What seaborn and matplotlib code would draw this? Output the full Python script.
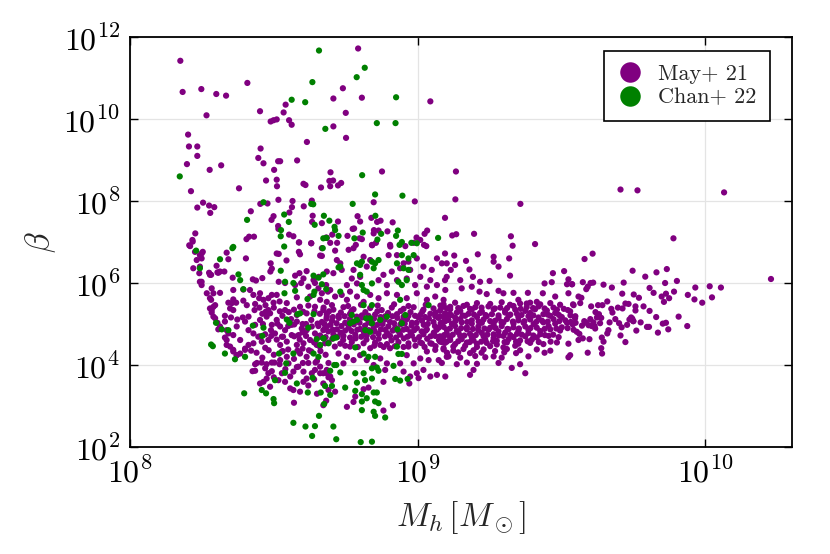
import matplotlib
matplotlib.use("Agg")
import matplotlib.pyplot as plt
from matplotlib.ticker import NullLocator
import seaborn as sns
import pandas as pd
import numpy as np

# values, stored as (log10 M_h, log10 beta)
may21_upper = [
    (8.175, 11.42), (8.793, 11.72), (8.183, 10.66), (8.248, 10.73), (8.300, 10.61), (8.334, 10.57),
    (8.408, 10.88), (8.266, 10.09), (8.452, 10.19), (8.541, 10.35), (8.534, 10.16), (8.489, 9.94),
    (8.499, 9.97), (8.510, 9.99), (8.553, 9.97), (8.562, 9.86), (8.740, 10.75), (8.707, 10.50),
    (8.750, 10.15), (8.707, 9.82), (8.806, 10.52), (8.615, 9.44), (8.751, 9.54), (8.202, 9.62),
    (8.205, 9.33), (8.234, 9.33), (8.234, 9.10), (8.198, 8.90), (8.277, 8.76), (8.317, 8.87),
    (8.454, 9.28), (8.446, 9.05), (8.464, 8.92), (8.515, 8.97), (8.522, 8.97), (8.581, 8.99),
    (8.501, 8.76), (8.473, 8.50), (8.510, 8.52), (8.511, 8.36), (8.697, 8.70), (8.603, 8.42),
    (8.610, 8.39), (8.664, 8.33), (8.693, 8.49), (8.706, 8.50), (8.696, 8.36), (8.723, 8.38),
    (8.734, 8.44), (8.212, 8.24), (8.379, 8.31), (9.044, 10.43), (8.876, 8.72), (9.133, 8.72),
    (8.847, 7.97), (8.990, 7.99), (9.131, 8.04), (9.357, 7.93), (9.705, 8.28), (9.764, 8.26),
    (10.065, 8.21), (9.889, 7.09),
]

may21_mid = [
    (8.254, 7.96), (8.275, 7.89), (8.293, 7.85), (8.234, 7.84), (8.279, 7.71), (8.453, 7.93),
    (8.478, 7.94), (8.516, 8.03), (8.565, 8.00), (8.604, 7.87), (8.632, 8.01), (8.420, 7.75),
    (8.499, 7.63), (8.492, 7.54), (8.563, 7.85), (8.554, 7.72), (8.635, 7.64), (8.633, 7.49),
    (8.667, 7.46), (8.723, 7.50), (8.515, 7.39), (8.516, 7.32), (8.553, 7.18), (8.568, 7.14),
    (8.588, 6.99), (8.227, 7.21), (8.217, 7.05), (8.206, 6.92), (8.405, 7.07), (8.414, 7.13),
    (8.431, 7.13), (8.630, 6.97), (8.684, 7.10), (8.703, 7.18), (8.696, 6.98), (8.720, 6.98),
    (8.756, 7.15), (8.791, 7.63), (8.800, 7.50), (8.774, 7.32), (8.798, 7.09), (8.839, 7.59),
    (8.859, 7.49), (8.871, 7.52), (8.913, 7.48), (9.095, 7.59), (8.779, 7.33), (8.848, 7.29),
    (8.864, 7.28), (8.895, 7.26), (9.024, 7.20), (9.033, 7.28), (8.996, 7.11), (9.120, 7.16),
    (9.134, 7.19), (9.196, 7.20), (9.324, 7.14), (9.330, 6.91), (9.408, 6.95), (8.806, 7.07),
    (8.785, 6.93), (8.842, 6.92), (8.855, 6.98), (8.905, 6.89), (9.022, 6.93), (9.030, 6.90),
]

may21_wall = [
    (8.209, 6.90), (8.218, 7.01), (8.226, 6.76), (8.243, 6.68), (8.232, 6.56), (8.249, 6.72),
    (8.220, 6.36), (8.243, 6.40), (8.241, 6.24), (8.243, 6.03), (8.249, 5.95), (8.278, 6.20),
    (8.304, 6.26), (8.313, 6.28), (8.267, 5.75), (8.284, 5.87), (8.278, 5.63), (8.296, 5.46),
    (8.284, 5.34), (8.290, 5.18), (8.304, 5.03), (8.307, 4.87), (8.330, 5.06), (8.342, 4.77),
    (8.336, 4.61), (8.348, 4.45), (8.359, 4.37), (8.371, 4.24), (8.383, 4.28), (8.400, 4.37),
]

may21_left = [
    (8.253, 6.76), (8.249, 6.60), (8.336, 6.74), (8.342, 6.58), (8.403, 6.60), (8.510, 6.72),
    (8.517, 6.71), (8.544, 6.55), (8.489, 6.48), (8.587, 6.99), (8.587, 6.76), (8.591, 6.70),
    (8.630, 6.97), (8.667, 6.85), (8.661, 6.67), (8.667, 6.66), (8.682, 7.11), (8.301, 6.42),
    (8.328, 6.28), (8.307, 6.25), (8.275, 6.25), (8.282, 6.20), (8.357, 6.13), (8.249, 6.03),
    (8.488, 6.28), (8.493, 6.35), (8.460, 6.12), (8.427, 6.09), (8.438, 6.06), (8.574, 6.18),
    (8.589, 6.24), (8.614, 6.29), (8.603, 6.11), (8.656, 6.15), (8.638, 6.07), (8.517, 6.03),
    (8.539, 6.00), (8.574, 5.95), (8.595, 6.00), (8.620, 5.91), (8.643, 6.00), (8.655, 5.87),
    (8.682, 5.95), (8.688, 5.79), (8.290, 5.75), (8.282, 5.59), (8.313, 5.76), (8.359, 5.83),
    (8.394, 5.84), (8.417, 5.83), (8.429, 5.71), (8.452, 5.75), (8.449, 5.63), (8.464, 5.59),
    (8.481, 5.63), (8.493, 5.71), (8.510, 5.71), (8.359, 5.60), (8.394, 5.57), (8.406, 5.46),
    (8.435, 5.49), (8.433, 5.34), (8.471, 5.46), (8.481, 5.34), (8.499, 5.52), (8.278, 5.38),
    (8.290, 5.42), (8.284, 5.28), (8.296, 5.14), (8.342, 5.52), (8.354, 5.51), (8.369, 5.52),
    (8.348, 5.38), (8.359, 5.34), (8.330, 5.20), (8.351, 5.16), (8.373, 5.11), (8.392, 5.16),
    (8.400, 5.06), (8.313, 4.94), (8.336, 4.85), (8.330, 4.67), (8.359, 4.73), (8.383, 4.61),
    (8.336, 4.49), (8.412, 4.85), (8.429, 4.77), (8.446, 4.69), (8.429, 4.53), (8.412, 4.49),
    (8.475, 5.18), (8.487, 5.26), (8.510, 5.10), (8.493, 4.98), (8.522, 4.94), (8.539, 4.85),
    (8.562, 4.98), (8.580, 5.06), (8.504, 4.77), (8.528, 4.69), (8.545, 4.57), (8.562, 4.73),
    (8.586, 4.73), (8.597, 4.89), (8.614, 4.85), (8.632, 4.94), (8.643, 4.77), (8.626, 4.61),
    (8.661, 4.69), (8.672, 4.85), (8.684, 4.94), (8.678, 4.53), (8.649, 4.49), (8.603, 4.53),
    (8.580, 4.49), (8.522, 4.49), (8.481, 4.61), (8.458, 4.57), (8.626, 5.67), (8.643, 5.42),
    (8.661, 5.59), (8.672, 5.34), (8.684, 5.18), (8.591, 5.42), (8.580, 5.22), (8.614, 5.26),
    (8.545, 5.51), (8.539, 5.34), (8.435, 4.98), (8.452, 5.10), (8.412, 5.18), (8.371, 4.94),
    (8.460, 5.25), (8.500, 5.40), (8.530, 5.20), (8.560, 5.12), (8.600, 5.00), (8.630, 5.10),
    (8.655, 4.95), (8.470, 4.75), (8.510, 4.62), (8.550, 4.95), (8.590, 4.62), (8.640, 4.55),
    (8.570, 5.35), (8.620, 5.45), (8.660, 5.25), (8.520, 5.55), (8.580, 5.65), (8.450, 5.40),
    (8.490, 4.85), (8.600, 4.80),
]

may21_low = [
    (8.359, 4.33), (8.371, 4.24), (8.435, 4.02), (8.458, 4.06), (8.475, 4.02), (8.493, 4.06),
    (8.470, 3.92), (8.481, 3.80), (8.493, 3.85), (8.435, 3.86), (8.426, 3.85), (8.452, 3.55),
    (8.464, 3.59), (8.487, 3.47), (8.475, 3.67), (8.516, 3.63), (8.528, 3.80), (8.539, 3.59),
    (8.557, 3.72), (8.568, 3.84), (8.585, 3.96), (8.603, 3.84), (8.614, 3.67), (8.632, 3.80),
    (8.643, 3.88), (8.661, 3.96), (8.672, 3.80), (8.684, 3.88), (8.672, 3.55), (8.557, 3.43),
    (8.568, 3.39), (8.591, 3.35), (8.603, 3.59), (8.570, 3.08), (8.682, 3.13), (8.672, 3.02),
    (8.522, 4.12), (8.545, 4.20), (8.591, 4.28), (8.614, 4.20), (8.528, 4.33), (8.400, 4.40),
    (8.440, 4.30), (8.470, 4.42), (8.500, 4.25), (8.550, 4.38), (8.570, 4.15), (8.600, 4.40),
    (8.630, 4.33), (8.650, 4.10), (8.680, 4.25), (8.460, 4.18), (8.520, 4.02), (8.580, 3.95),
    (8.620, 4.05), (8.660, 4.45), (8.690, 4.05), (8.500, 3.70), (8.540, 3.90), (8.640, 3.65),
    (8.690, 3.70), (8.620, 3.50), (8.650, 3.30), (8.661, 3.80), (8.684, 3.80), (8.696, 3.72),
    (8.702, 3.63), (8.690, 3.39), (8.713, 3.35), (8.754, 2.98), (8.777, 3.10), (8.783, 3.23),
    (8.812, 3.41), (8.829, 3.45), (8.881, 3.59), (8.881, 2.89), (8.914, 3.02), (8.725, 4.28),
    (8.742, 4.04), (8.754, 4.20), (8.777, 4.12), (8.800, 4.24), (8.823, 4.12), (8.870, 4.16),
    (8.893, 4.04), (8.847, 4.00), (8.887, 3.88), (8.939, 4.04), (8.951, 3.84), (8.974, 3.72),
    (8.997, 3.80), (9.020, 3.88), (9.044, 3.72), (9.067, 3.76), (9.096, 3.72), (8.986, 4.04),
    (8.962, 4.24), (9.009, 4.16), (9.038, 4.12), (9.073, 4.12), (9.101, 4.20), (9.032, 4.33),
    (9.061, 4.37), (9.090, 4.41), (9.015, 4.53), (9.044, 4.53), (9.078, 4.57), (8.765, 4.45),
    (8.835, 4.41), (8.870, 4.49), (8.904, 4.41), (8.968, 4.45),
]

may21_upper_core = [
    (8.713, 6.79), (8.760, 6.81), (8.777, 6.85), (8.719, 6.56), (8.731, 6.48), (8.736, 6.32),
    (8.707, 6.24), (8.684, 6.28), (8.812, 6.64), (8.835, 6.56), (8.823, 6.40), (8.777, 6.32),
    (8.800, 6.15), (8.771, 6.11), (8.754, 5.95), (8.789, 5.99), (8.841, 6.93), (8.847, 7.21),
    (8.904, 6.93), (8.899, 6.68), (8.928, 6.68), (8.957, 6.90), (8.986, 6.98), (9.009, 7.05),
    (8.951, 6.48), (8.968, 6.52), (8.997, 6.60), (9.020, 6.40), (9.049, 6.32), (9.067, 6.60),
    (9.084, 6.48), (9.101, 6.15), (9.044, 6.07), (9.009, 6.15), (8.974, 6.32), (8.939, 6.36),
    (8.910, 6.28), (8.881, 6.20), (8.864, 6.07), (8.893, 5.95), (8.928, 6.07), (8.962, 6.11),
    (8.991, 5.95), (9.032, 5.91), (9.067, 5.95), (9.096, 5.83), (8.667, 5.75), (8.696, 5.83),
    (8.713, 5.67), (8.684, 5.54), (8.736, 5.71), (8.765, 5.79), (8.754, 5.59), (8.789, 5.67),
    (8.812, 5.54), (8.835, 5.71), (8.864, 5.63), (8.893, 5.75), (8.928, 5.71), (8.962, 5.63),
    (8.997, 5.75), (9.032, 5.59), (9.061, 5.67), (9.090, 5.59), (9.095, 6.72), (9.127, 6.67),
    (9.101, 6.48), (9.130, 6.44), (9.115, 6.32), (9.168, 6.54), (9.180, 6.33), (9.209, 6.70),
    (9.264, 6.64), (9.264, 6.52), (9.281, 6.40), (9.318, 6.60), (9.321, 6.18), (9.095, 6.07),
    (9.148, 6.07), (9.192, 6.15), (9.217, 6.03), (9.250, 6.05), (9.153, 5.87), (9.188, 5.91),
    (9.215, 5.79), (9.240, 5.73), (9.281, 5.81), (9.298, 5.75), (9.333, 5.76), (9.470, 6.24),
    (9.509, 6.29), (9.524, 6.09), (9.519, 5.97), (9.536, 5.97), (9.466, 6.02), (9.441, 5.99),
    (9.435, 5.75), (9.478, 5.67), (9.524, 5.75), (9.542, 5.46), (9.522, 5.34), (9.559, 5.67),
    (9.383, 5.76), (9.414, 5.54), (9.350, 5.59), (9.379, 5.50),
]

may21_core = [
    (8.673, 5.40), (8.707, 5.35), (8.742, 5.41), (8.777, 5.36), (8.835, 5.39), (8.875, 5.34),
    (8.910, 5.40), (8.951, 5.37), (8.986, 5.41), (9.020, 5.35), (9.055, 5.38), (9.090, 5.42),
    (8.684, 5.24), (8.725, 5.20), (8.765, 5.25), (8.806, 5.21), (8.852, 5.23), (8.887, 5.19),
    (8.928, 5.24), (8.968, 5.20), (9.009, 5.22), (9.044, 5.25), (9.078, 5.19), (9.107, 5.23),
    (8.667, 5.05), (8.702, 5.08), (8.748, 5.03), (8.789, 5.07), (8.829, 5.04), (8.870, 5.08),
    (8.904, 5.05), (8.945, 5.07), (8.980, 5.03), (9.015, 5.08), (9.055, 5.05), (9.096, 5.07),
    (8.678, 4.90), (8.719, 4.87), (8.760, 4.91), (8.800, 4.88), (8.847, 4.90), (8.887, 4.86),
    (8.922, 4.91), (8.962, 4.88), (8.997, 4.90), (9.032, 4.87), (9.073, 4.91), (8.661, 4.72),
    (8.707, 4.75), (8.742, 4.71), (8.783, 4.74), (8.823, 4.72), (8.864, 4.76), (8.904, 4.71),
    (8.939, 4.74), (8.980, 4.72), (9.020, 4.75), (9.061, 4.71), (9.101, 4.74), (8.690, 4.55),
    (8.731, 4.52), (8.771, 4.56), (8.812, 4.53), (8.852, 4.55), (8.893, 4.51), (8.933, 4.56),
    (8.968, 4.53), (9.009, 4.55), (9.049, 4.52), (9.084, 4.56), (8.692, 5.31), (8.733, 5.28),
    (8.770, 5.32), (8.818, 5.29), (8.860, 5.31), (8.897, 5.27), (8.941, 5.32), (8.975, 5.29),
    (9.016, 5.30), (9.062, 5.28), (8.683, 5.13), (8.726, 5.15), (8.764, 5.12), (8.807, 5.16),
    (8.848, 5.13), (8.886, 5.11), (8.929, 5.15), (8.963, 5.12), (9.003, 5.16), (9.039, 5.13),
    (9.072, 5.15), (8.697, 4.98), (8.735, 4.95), (8.778, 4.99), (8.817, 4.96), (8.859, 4.98),
    (8.898, 4.94), (8.940, 4.99), (8.979, 4.96), (9.021, 4.98), (9.060, 4.95), (8.689, 4.82),
    (8.732, 4.79), (8.770, 4.83), (8.813, 4.80), (8.851, 4.82), (8.894, 4.78), (8.932, 4.83),
    (8.975, 4.80), (9.014, 4.82), (9.056, 4.79), (8.703, 4.64), (8.741, 4.61), (8.784, 4.65),
    (8.822, 4.62), (8.865, 4.64), (8.909, 4.60), (8.952, 4.65), (8.990, 4.62), (9.033, 4.64),
    (9.074, 4.61),
]

may21_band = [
    (9.090, 5.48), (9.130, 5.52), (9.171, 5.47), (9.206, 5.51), (9.252, 5.49), (9.292, 5.53),
    (9.321, 5.47), (9.356, 5.50), (9.391, 5.52), (9.426, 5.48), (9.461, 5.51), (9.495, 5.47),
    (9.078, 5.33), (9.113, 5.36), (9.148, 5.32), (9.188, 5.35), (9.223, 5.31), (9.264, 5.36),
    (9.304, 5.33), (9.339, 5.35), (9.374, 5.32), (9.408, 5.36), (9.449, 5.33), (9.484, 5.35),
    (9.530, 5.31), (9.095, 5.19), (9.130, 5.16), (9.165, 5.20), (9.206, 5.17), (9.240, 5.19),
    (9.281, 5.15), (9.316, 5.20), (9.350, 5.17), (9.385, 5.19), (9.420, 5.16), (9.461, 5.20),
    (9.501, 5.17), (9.548, 5.19), (9.084, 5.03), (9.119, 5.00), (9.153, 5.04), (9.188, 5.01),
    (9.223, 5.03), (9.264, 4.99), (9.298, 5.04), (9.333, 5.01), (9.368, 5.03), (9.403, 5.00),
    (9.437, 5.04), (9.478, 5.01), (9.519, 5.03), (9.101, 4.86), (9.136, 4.83), (9.171, 4.87),
    (9.211, 4.84), (9.246, 4.86), (9.281, 4.82), (9.316, 4.87), (9.350, 4.84), (9.385, 4.86),
    (9.426, 4.83), (9.461, 4.87), (9.495, 4.84), (9.542, 4.86), (9.078, 4.70), (9.113, 4.67),
    (9.148, 4.71), (9.188, 4.68), (9.229, 4.70), (9.264, 4.66), (9.298, 4.71), (9.333, 4.68),
    (9.374, 4.70), (9.414, 4.67), (9.455, 4.71), (9.490, 4.68), (9.095, 4.54), (9.130, 4.51),
    (9.171, 4.55), (9.206, 4.52), (9.240, 4.54), (9.275, 4.50), (9.310, 4.55), (9.350, 4.52),
    (9.391, 4.54), (9.437, 4.51), (9.484, 4.55), (9.524, 4.52), (9.090, 4.38), (9.124, 4.35),
    (9.159, 4.39), (9.194, 4.36), (9.229, 4.38), (9.269, 4.34), (9.310, 4.39), (9.356, 4.36),
    (9.414, 4.38), (9.461, 4.35), (9.107, 4.21), (9.148, 4.18), (9.200, 4.22), (9.235, 4.19),
    (9.264, 4.21), (9.292, 4.18), (9.385, 4.21), (9.524, 4.19), (9.084, 4.05), (9.136, 4.02),
    (9.171, 4.06), (9.206, 4.03), (9.281, 4.05), (9.356, 4.02), (9.327, 3.93), (9.374, 3.80),
    (9.182, 3.76), (9.194, 3.88), (8.971, 3.55), (9.003, 3.68), (9.113, 5.42), (9.159, 5.44),
    (9.200, 5.41), (9.246, 5.43), (9.287, 5.40), (9.333, 5.44), (9.379, 5.41), (9.420, 5.43),
    (9.095, 5.26), (9.136, 5.28), (9.177, 5.25), (9.217, 5.27), (9.258, 5.24), (9.304, 5.28),
    (9.345, 5.25), (9.391, 5.27), (9.437, 5.24), (9.478, 5.27), (9.107, 5.10), (9.148, 5.12),
    (9.188, 5.09), (9.229, 5.11), (9.269, 5.08), (9.310, 5.12), (9.350, 5.09), (9.391, 5.11),
    (9.432, 5.08), (9.472, 5.12), (9.513, 5.09), (9.090, 4.93), (9.130, 4.95), (9.171, 4.92),
    (9.211, 4.94), (9.252, 4.91), (9.292, 4.95), (9.333, 4.92), (9.374, 4.94), (9.414, 4.91),
    (9.455, 4.95), (9.501, 4.92), (9.101, 4.77), (9.142, 4.79), (9.182, 4.76), (9.223, 4.78),
    (9.264, 4.75), (9.304, 4.79), (9.345, 4.76), (9.385, 4.78), (9.426, 4.75), (9.113, 4.61),
    (9.153, 4.63), (9.194, 4.60), (9.235, 4.62), (9.275, 4.59), (9.316, 4.63), (9.356, 4.60),
    (9.397, 4.62), (9.124, 4.45), (9.165, 4.47), (9.206, 4.44), (9.252, 4.46), (9.298, 4.43),
    (9.339, 4.47),
]

# extra estimated points where the reference cluster is nearly solid
may21_fill = [
    (8.702, 5.46), (8.758, 5.44), (8.803, 5.47), (8.861, 5.45), (8.918, 5.48), (8.968, 5.44),
    (9.028, 5.47), (9.079, 5.45), (8.705, 5.17), (8.746, 5.19), (8.788, 5.18), (8.829, 5.20),
    (8.871, 5.17), (8.912, 5.19), (8.951, 5.18), (8.991, 5.20), (9.026, 5.17), (9.061, 5.19),
    (9.093, 5.16), (8.676, 5.00), (8.718, 5.02), (8.757, 5.00), (8.798, 5.03), (8.840, 5.01),
    (8.878, 5.00), (8.918, 5.02), (8.955, 5.01), (8.996, 5.03), (9.035, 5.00), (9.080, 5.02),
    (8.705, 4.86), (8.748, 4.84), (8.790, 4.86), (8.830, 4.85), (8.872, 4.87), (8.913, 4.84),
    (8.950, 4.86), (8.988, 4.85), (9.028, 4.84), (9.066, 4.86), (8.680, 4.68), (8.722, 4.69),
    (8.765, 4.67), (8.804, 4.69), (8.845, 4.68), (8.886, 4.70), (8.925, 4.67), (8.965, 4.69),
    (9.005, 4.68), (9.045, 4.70), (9.088, 4.67), (8.712, 4.45), (8.748, 4.47), (8.792, 4.44),
    (8.849, 4.47), (8.882, 4.44), (8.921, 4.46), (8.951, 4.44), (8.992, 4.47), (9.024, 4.44),
    (9.062, 4.46), (9.102, 5.38), (9.141, 5.39), (9.182, 5.37), (9.222, 5.40), (9.268, 5.38),
    (9.311, 5.39), (9.358, 5.37), (9.401, 5.39), (9.441, 5.38), (9.472, 5.40), (9.508, 5.37),
    (9.116, 5.22), (9.156, 5.21), (9.196, 5.23), (9.236, 5.22), (9.281, 5.21), (9.322, 5.23),
    (9.361, 5.22), (9.402, 5.21), (9.452, 5.23), (9.491, 5.22), (9.531, 5.21), (9.091, 5.06),
    (9.131, 5.07), (9.172, 5.05), (9.212, 5.06), (9.252, 5.07), (9.291, 5.05), (9.331, 5.06),
    (9.371, 5.07), (9.412, 5.05), (9.452, 5.06), (9.492, 5.07), (9.532, 5.05), (9.112, 4.89),
    (9.151, 4.90), (9.192, 4.88), (9.232, 4.89), (9.271, 4.90), (9.312, 4.88), (9.352, 4.89),
    (9.392, 4.90), (9.441, 4.88), (9.482, 4.89), (9.521, 4.90), (9.092, 4.73), (9.122, 4.74),
    (9.162, 4.72), (9.202, 4.73), (9.242, 4.74), (9.282, 4.72), (9.322, 4.73), (9.362, 4.74),
    (9.402, 4.72), (9.442, 4.73), (9.471, 4.74), (9.101, 4.57), (9.141, 4.58), (9.181, 4.56),
    (9.221, 4.57), (9.262, 4.58), (9.302, 4.56), (9.342, 4.57), (9.382, 4.58), (9.421, 4.56),
    (9.462, 4.57), (9.102, 4.30), (9.141, 4.31), (9.182, 4.29), (9.222, 4.30), (9.301, 4.31),
    (9.342, 4.29), (9.441, 4.30), (8.472, 5.30), (8.521, 5.31), (8.552, 5.29), (8.602, 5.30),
    (8.641, 5.31), (8.462, 5.00), (8.512, 5.01), (8.571, 4.99), (8.612, 5.00), (8.652, 5.01),
    (8.452, 4.70), (8.491, 4.71), (8.532, 4.69), (8.571, 4.70), (8.612, 4.71), (8.652, 4.69),
    (8.421, 4.35), (8.482, 4.36), (8.531, 4.34), (8.582, 4.35), (8.622, 4.36), (8.662, 4.34),
    (8.441, 4.05), (8.502, 4.06), (8.551, 4.04), (8.601, 4.05), (8.645, 4.06),
]

may21_tail = [
    (9.580, 6.585), (9.608, 6.716), (9.747, 6.30), (9.791, 6.155), (9.830, 6.26), (9.866, 6.34),
    (10.228, 6.098), (9.901, 6.05), (9.860, 6.00), (9.806, 5.88), (9.820, 5.76), (9.848, 5.67),
    (9.856, 5.54), (9.863, 5.74), (9.874, 5.63), (9.891, 5.79), (9.939, 5.71), (9.965, 5.89),
    (9.962, 5.60), (9.989, 5.52), (10.015, 5.92), (10.054, 5.89), (10.023, 5.65), (9.907, 5.18),
    (9.937, 4.95), (9.829, 5.17), (9.835, 4.79), (9.871, 4.87), (9.852, 5.01), (9.863, 5.03),
    (9.797, 4.93), (9.804, 4.93), (9.760, 4.84), (9.775, 5.04), (9.750, 5.07), (9.746, 5.13),
    (9.757, 5.33), (9.757, 5.43), (9.806, 5.32), (9.785, 5.43), (9.751, 5.72), (9.769, 5.64),
    (9.716, 6.01), (9.675, 5.89), (9.646, 5.96), (9.601, 6.00), (9.610, 6.01), (9.586, 5.85),
    (9.591, 5.91), (9.574, 6.02), (9.537, 5.97), (9.711, 5.74), (9.659, 5.55), (9.627, 5.46),
    (9.642, 5.46), (9.603, 5.43), (9.565, 5.51), (9.569, 5.64), (9.540, 5.48), (9.673, 5.37),
    (9.677, 5.28), (9.696, 5.40), (9.712, 5.38), (9.722, 5.50), (9.733, 5.49), (9.600, 5.12),
    (9.611, 5.04), (9.623, 5.16), (9.638, 5.15), (9.618, 5.29), (9.630, 5.24), (9.615, 4.95),
    (9.605, 4.95), (9.634, 5.02), (9.617, 4.89), (9.586, 5.03), (9.547, 5.14), (9.549, 5.03),
    (9.539, 4.99), (9.571, 4.96), (9.579, 5.07), (9.594, 4.97), (9.553, 4.81), (9.562, 4.76),
    (9.574, 4.65), (9.559, 4.61), (9.597, 4.63), (9.640, 4.67), (9.646, 4.57), (9.638, 4.41),
    (9.641, 4.28), (9.591, 4.30), (9.663, 4.85), (9.659, 4.77), (9.687, 5.12), (9.667, 5.04),
    (9.700, 5.02), (9.709, 4.92), (9.705, 4.72), (9.722, 4.56), (9.728, 4.98), (9.742, 5.16),
    (9.749, 5.07), (9.736, 5.11), (9.530, 4.24),
]

chan22_pts = [
    (8.657, 11.67), (8.634, 10.90), (8.788, 11.02), (8.562, 10.47), (8.609, 10.41), (8.679, 9.76),
    (8.173, 8.60), (8.464, 7.97), (8.637, 7.92), (8.630, 7.93), (8.774, 7.93), (8.407, 7.54),
    (8.536, 7.67), (8.552, 7.49), (8.642, 7.42), (8.674, 7.64), (8.693, 7.52), (8.711, 7.37),
    (8.713, 7.29), (8.525, 7.29), (8.524, 7.14), (8.536, 6.89), (8.672, 7.09), (8.683, 7.10),
    (8.725, 7.15), (8.780, 7.09), (8.359, 6.88), (8.816, 11.25), (8.925, 10.53), (8.858, 9.90),
    (8.923, 9.90), (8.807, 8.63), (8.852, 8.16), (8.947, 8.13), (8.853, 7.64), (8.809, 7.23),
    (8.873, 7.20), (8.931, 7.28), (8.925, 7.15), (8.860, 7.06), (8.945, 7.00), (8.937, 6.93),
    (8.978, 6.98), (9.071, 7.10), (8.356, 6.85), (8.313, 6.58), (8.243, 6.36), (8.377, 6.21),
    (8.383, 6.07), (8.394, 5.85), (8.524, 6.30), (8.539, 6.03), (8.568, 6.00), (8.574, 5.81),
    (8.537, 5.75), (8.638, 6.18), (8.655, 6.13), (8.672, 6.21), (8.667, 5.97), (8.682, 5.85),
    (8.641, 5.79), (8.638, 5.71), (8.617, 5.61), (8.545, 5.11), (8.554, 5.03), (8.582, 5.24),
    (8.591, 5.26), (8.638, 5.24), (8.299, 5.03), (8.319, 4.87), (8.342, 4.85), (8.427, 4.96),
    (8.464, 4.91), (8.460, 4.71), (8.620, 4.91), (8.649, 4.63), (8.672, 4.65), (8.661, 4.49),
    (8.282, 4.50), (8.288, 4.46), (8.230, 6.79), (8.330, 4.28), (8.365, 4.14), (8.400, 4.20),
    (8.518, 4.28), (8.543, 4.04), (8.539, 3.81), (8.568, 4.28), (8.580, 3.55), (8.504, 3.63),
    (8.458, 3.39), (8.473, 3.31), (8.397, 3.31), (8.499, 3.17), (8.501, 3.07), (8.618, 3.33),
    (8.638, 4.28), (8.655, 4.20), (8.635, 3.69), (8.663, 3.33), (8.678, 3.49), (8.675, 3.05),
    (8.657, 2.76), (8.568, 2.59), (8.610, 2.50), (8.643, 2.51), (8.633, 2.27), (8.725, 6.38),
    (8.731, 6.40), (8.789, 6.48), (8.800, 6.44), (8.806, 6.52), (8.841, 6.52), (8.852, 6.48),
    (8.864, 6.56), (8.847, 6.36), (8.928, 6.48), (8.945, 6.68), (8.968, 6.60), (8.986, 6.68),
    (8.997, 6.97), (8.670, 6.85), (8.951, 6.36), (8.968, 6.32), (8.731, 5.79), (8.800, 6.20),
    (8.806, 5.95), (8.812, 5.83), (8.823, 5.79), (8.841, 5.99), (8.933, 6.03), (8.945, 5.95),
    (8.962, 6.07), (8.812, 5.46), (8.841, 5.46), (8.939, 5.59), (8.957, 5.22), (9.038, 5.46),
    (8.771, 5.22), (8.789, 5.10), (8.765, 5.02), (8.777, 5.06), (8.821, 5.14), (8.835, 5.14),
    (8.870, 5.10), (8.893, 5.18), (8.818, 4.85), (8.835, 4.81), (8.841, 5.02), (8.930, 4.87),
    (8.945, 5.02), (8.673, 4.65), (8.707, 4.65), (8.717, 4.67), (8.783, 4.43), (8.928, 4.45),
    (8.690, 4.53), (8.812, 4.28), (8.829, 4.20), (8.852, 4.20), (8.933, 4.27), (8.945, 4.27),
    (8.710, 4.00), (8.717, 4.00), (8.696, 3.86), (8.731, 3.82), (8.783, 3.80), (8.812, 3.80),
    (8.841, 3.92), (8.858, 3.94), (8.864, 3.86), (8.916, 3.98), (8.702, 3.49), (8.748, 3.45),
    (8.789, 3.57), (8.817, 3.63), (8.841, 3.67), (8.922, 3.66), (8.939, 3.62), (8.965, 3.66),
    (8.783, 3.37), (8.806, 3.29), (8.847, 3.33), (8.858, 3.33), (8.696, 3.27), (8.806, 3.11),
    (8.823, 3.19), (8.852, 3.11), (8.864, 3.07), (8.806, 2.90), (8.847, 2.86), (8.852, 2.76),
    (8.887, 2.72), (8.707, 2.50), (8.717, 2.19), (8.802, 2.12), (8.841, 2.13),
]

may21_pts = (may21_upper + may21_mid + may21_wall + may21_left + may21_low
             + may21_upper_core + may21_core + may21_band + may21_fill + may21_tail)

labels = ["May+ 21", "Chan+ 22"]
colors = {"May+ 21": "#800080", "Chan+ 22": "#008000"}

frames = []
for name, pts in zip(labels, [may21_pts, chan22_pts]):
    arr = np.array(pts)
    frames.append(pd.DataFrame({"M_h": 10 ** arr[:, 0], "beta": 10 ** arr[:, 1], "source": name}))
df = pd.concat(frames, ignore_index=True)

sns.set_style("ticks")
plt.rcParams["mathtext.fontset"] = "cm"
plt.rcParams["font.family"] = ["cmr10", "DejaVu Serif"]
plt.rcParams["axes.formatter.use_mathtext"] = True
plt.rcParams["axes.unicode_minus"] = False

fig = plt.figure(figsize=(8.3, 5.54), dpi=100)
ax = fig.add_axes([0.1566, 0.1931, 0.7976, 0.7401])

sns.scatterplot(data=df, x="M_h", y="beta", hue="source", palette=colors,
                s=20, linewidth=0, ax=ax, legend=True)

ax.set_xscale("log")
ax.set_yscale("log")
ax.set_xlim(1e8, 2e10)
ax.set_ylim(1e2, 1e12)

xt = [1e8, 1e9, 1e10]
yt = [1e2, 1e4, 1e6, 1e8, 1e10, 1e12]
ax.set_xticks(xt)
ax.set_xticklabels([r"$10^{%d}$" % round(np.log10(v)) for v in xt])
ax.set_yticks(yt)
ax.set_yticklabels([r"$10^{%d}$" % round(np.log10(v)) for v in yt])
ax.xaxis.set_minor_locator(NullLocator())
ax.yaxis.set_minor_locator(NullLocator())
ax.tick_params(which="major", direction="in", length=6, width=1.0, top=True, right=True,
               labelsize=23, pad=7, colors="black")

ax.grid(True, color="#e4e4e4", linewidth=0.9)
ax.set_axisbelow(True)
for sp in ax.spines.values():
    sp.set_color("black")
    sp.set_linewidth(1.3)

ax.set_xlabel(r"$M_h\,[M_\odot]$", fontsize=24, labelpad=8)
ax.set_ylabel(r"$\beta$", fontsize=24, labelpad=4)

handles, _ = ax.get_legend_handles_labels()
leg = ax.legend(handles, labels, loc="upper right", bbox_to_anchor=(0.967, 0.966),
                borderaxespad=0, markerscale=3.3, fontsize=16, frameon=True, fancybox=False,
                framealpha=1, edgecolor="black", handlelength=1.1, handletextpad=0.75,
                labelspacing=0.18, borderpad=0.6)
leg.get_frame().set_linewidth(1.2)

fig.savefig("out.png", dpi=100)
